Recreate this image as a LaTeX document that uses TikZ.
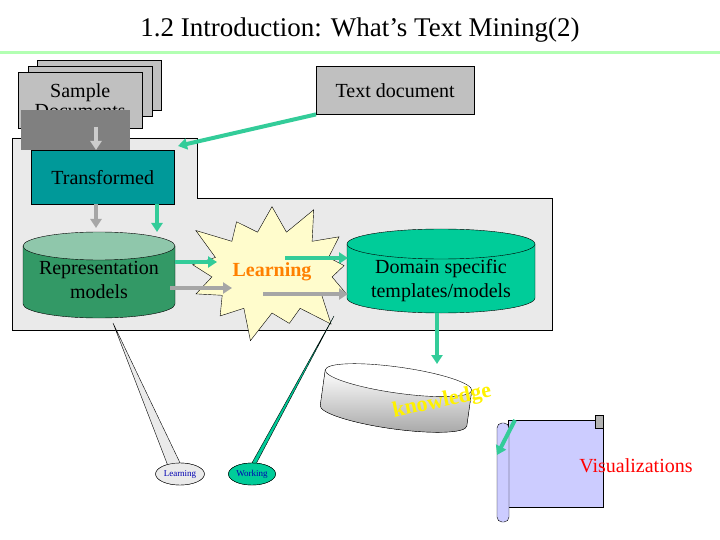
\documentclass[tikz,border=0pt]{standalone}
\usepackage{fontspec}
\setmainfont{Liberation Serif}
\usepackage{tikz}
\usetikzlibrary{shapes.geometric,shapes.symbols}
\usetikzlibrary{arrows.meta,arrows}
\definecolor{mint}{HTML}{33CC99}
\definecolor{teal2}{HTML}{009999}
\definecolor{darkmint}{HTML}{339966}
\definecolor{seagreen}{HTML}{00CC99}
\definecolor{panelgray}{HTML}{EAEAEA}
\definecolor{docgray}{HTML}{C0C0C0}
\definecolor{lavender}{HTML}{CCCCFF}
\tikzstyle{doc} = [rectangle, draw, fill=docgray, minimum width=124pt, minimum height=50pt, font=\fontsize{20}{22}\selectfont]
\tikzstyle{thin} = [draw, line width=4pt, -{Triangle[length=9pt, width=11pt]}]
\tikzstyle{label} = [font=\fontsize{20}{24}\selectfont, align=center]
\tikzstyle{tag} = [ellipse, draw, inner sep=1pt, minimum width=40pt, minimum height=22pt, font=\fontsize{9}{10}\selectfont, text=blue!70!black]
% drum: x, y, half width, half height, end radius, body fill, end fill
\newcommand{\drum}[7]{
  \begin{scope}[shift={(#1,#2)}]
    \filldraw [fill=#6] (-#3,-#4) -- (-#3,#4) arc [start angle=180, end angle=0, x radius=#3, y radius=#5] -- (#3,-#4) -- cycle;
    \filldraw [fill=#7] (0,-#4) ellipse [x radius=#3, y radius=#5];
  \end{scope}}

\begin{document}
\begin{tikzpicture}[x=1pt, y=-1pt]
    \useasboundingbox (0,0) rectangle (720,540);
    % title
    \node (title) at (360,30) {\fontsize{27}{30}\selectfont 1.2 Introduction: What's Text Mining(2)};
    \draw [green!30, line width=3pt] (0,53) -- (720,53);
    % panel
    \draw [fill=panelgray] (12,138) -- (197,138) -- (197,198) -- (552,198) -- (552,330) -- (12,330) -- cycle;
    % nodes
    \node [doc, anchor=north west] (back) at (37,60) {};
    \node [doc, anchor=north west] (mid) at (28,66) {};
    \node [doc, align=center, anchor=north west, minimum height=56pt, inner sep=2pt] (docs) at (18,72) {Sample\\[-2pt] Documents};
    \fill [gray] (21,110) rectangle (130,150);
    \node [rectangle, draw, fill=teal2, minimum width=143pt, minimum height=54pt, anchor=north west, font=\fontsize{20}{22}\selectfont] (trans) at (31,150) {Transformed};
    \node [doc, minimum width=158pt, minimum height=48pt, anchor=north west] (textdoc) at (316,66) {Text document};
    \drum{99}{275}{76}{29}{14}{darkmint}{darkmint!55}
    \node [label] (rep) at (99,280) {Representation\\models};
    \node [starburst, draw, fill=yellow!20, starburst points=13, starburst point height=34pt, minimum width=130pt, minimum height=150pt, font=\bfseries\fontsize{20}{22}\selectfont, text=orange] (learn) at (272,272) {Learning};
    \drum{441}{271}{94}{27}{15}{seagreen}{seagreen}
    \node [label] (domain) at (441,281) {Domain specific\\templates/models};
    \begin{scope}[shift={(396,398)}, rotate=-8]
      \filldraw [top color=white, bottom color=gray!70] (-74,-18) -- (-74,18) arc [start angle=180, end angle=0, x radius=74, y radius=13] -- (74,-18) -- cycle;
      \filldraw [fill=white] (0,-18) ellipse [x radius=74, y radius=13];
    \end{scope}
    \node [rotate=12, text=yellow, font=\bfseries\fontsize{22}{24}\selectfont] (know) at (442,402) {knowledge};
    % scroll
    \draw [fill=lavender] (508,420) rectangle (603,507);
    \draw [fill=lavender, rounded corners=5pt] (497,423) rectangle (509,522);
    \draw [fill=gray!60] (595,415) rectangle (603,428);
    \node [text=red, font=\fontsize{20}{22}\selectfont] (vis) at (636,466) {Visualizations};
    \coordinate (scroll) at (497,455);
    % callouts
    \node [tag, fill=panelgray] (tlearn) at (180,474) {Learning};
    \node [tag, fill=seagreen] (twork) at (252,474) {Working};
    \coordinate (reptip) at (113,323);
    \coordinate (domtip) at (334,316);
    \filldraw [fill=panelgray] (reptip) -- (tlearn.north) -- (168,466) -- cycle;
    \filldraw [fill=seagreen] (domtip) -- (twork.north) -- (256,464) -- cycle;
    \node at (tlearn) [tag, fill=panelgray] {Learning};
    \node at (twork) [tag, fill=seagreen] {Working};
    % edges
    \coordinate (corner) at (178,146);
    \path [thin, draw=mint] (textdoc.south west) -- (corner);
    \path [thin, draw=gray!40] (96,127) -- (96,150);
    \path [thin, draw=gray!70] (96,204) -- (96,228);
    \path [thin, draw=mint] (157,204) -- (157,232);
    \path [thin, draw=mint] (175,262) -- (217,262);
    \path [thin, draw=gray!70] (170,288) -- (232,288);
    \path [thin, draw=mint] (285,258) -- (348,258);
    \path [thin, draw=gray!70] (263,294) -- (348,294);
    \path [thin, draw=mint] (437,313) -- (437,364);
    \path [thin, draw=mint] (515,420) -- (scroll);
\end{tikzpicture}
\end{document}
